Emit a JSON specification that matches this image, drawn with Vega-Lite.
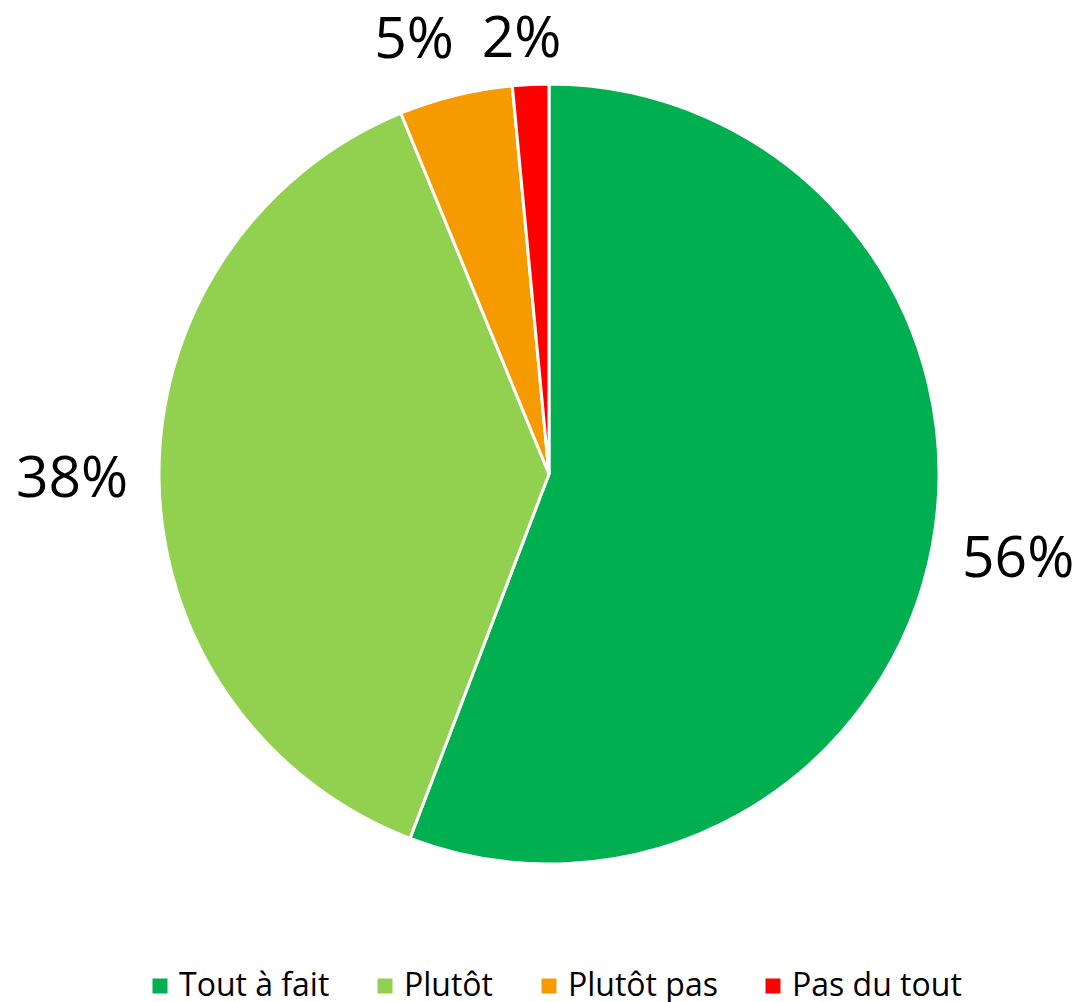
{
  "$schema": "https://vega.github.io/schema/vega-lite/v6.json",
  "width": 1064,
  "height": 948,
  "padding": {"left": 17, "right": 0, "top": 0, "bottom": 54},
  "autosize": {"type": "none"},
  "background": "white",
  "config": {"view": {"stroke": null}, "font": "Open Sans"},
  "data": {
    "values": [
      {"k": "Tout à fait", "v": 55.8, "o": 1, "label": "56%"},
      {"k": "Plutôt", "v": 38.0, "o": 2, "label": "38%"},
      {"k": "Plutôt pas", "v": 4.7, "o": 3, "label": "5%"},
      {"k": "Pas du tout", "v": 1.5, "o": 4, "label": "2%"}
    ]
  },
  "encoding": {
    "theta": {"field": "v", "type": "quantitative", "stack": true},
    "order": {"field": "o", "type": "quantitative", "sort": "ascending"}
  },
  "layer": [
    {
      "mark": {"type": "arc", "radius": 390, "stroke": "white", "strokeWidth": 3},
      "encoding": {
        "color": {
          "field": "k",
          "type": "nominal",
          "scale": {
            "domain": ["Tout à fait", "Plutôt", "Plutôt pas", "Pas du tout"],
            "range": ["#00B050", "#92D050", "#F59B00", "#FF0000"]
          },
          "legend": {
            "title": null,
            "orient": "none",
            "direction": "horizontal",
            "legendX": 127,
            "legendY": 970,
            "symbolType": "square",
            "symbolSize": 225,
            "symbolStrokeWidth": 0,
            "labelFont": "Open Sans",
            "labelFontSize": 32,
            "labelColor": "#000000",
            "labelOffset": 3,
            "columnPadding": 39,
            "padding": 0,
            "labelLimit": 400
          }
        }
      }
    },
    {
      "mark": {"type": "text", "radius": 477, "fontSize": 57, "font": "Open Sans", "color": "#000000", "align": "center", "baseline": "middle"},
      "encoding": {
        "text": {"condition": {"test": "datum.v > 10", "field": "label"}, "value": ""}
      }
    },
    {
      "mark": {"type": "text", "radius": 454, "thetaOffset": -0.06, "fontSize": 57, "font": "Open Sans", "color": "#000000", "align": "center", "baseline": "middle"},
      "encoding": {
        "text": {"condition": {"test": "datum.k == 'Plutôt pas'", "field": "label"}, "value": ""}
      }
    },
    {
      "mark": {"type": "text", "radius": 435, "thetaOffset": -0.016, "fontSize": 57, "font": "Open Sans", "color": "#000000", "align": "center", "baseline": "middle"},
      "encoding": {
        "text": {"condition": {"test": "datum.k == 'Pas du tout'", "field": "label"}, "value": ""}
      }
    }
  ]
}
